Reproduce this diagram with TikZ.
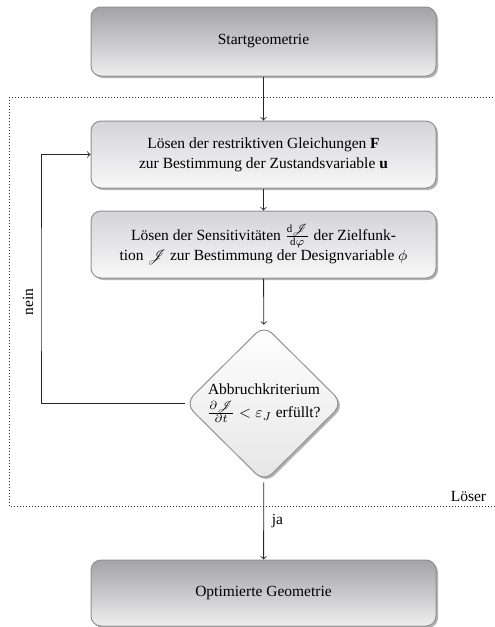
\documentclass[tikz,border=0pt]{standalone}
\usepackage{fontspec}
\setmainfont{Liberation Serif}
\usepackage{amsmath}
\usepackage{mathrsfs}
\usetikzlibrary{shapes.geometric,shadows}
\definecolor{darktop}{RGB}{163,163,168}
\definecolor{darkbot}{RGB}{238,238,238}
\definecolor{lighttop}{RGB}{212,212,216}
\definecolor{lightbot}{RGB}{248,248,248}
\definecolor{edgegray}{RGB}{145,145,145}
\begin{document}
\begin{tikzpicture}[x=0.6pt,y=-0.6pt,
  font=\fontsize{9.3}{12}\selectfont,
  boxbase/.style={rectangle, rounded corners=6pt, draw=edgegray, line width=0.6pt,
    minimum width=207pt, align=center, inner sep=0pt,
    drop shadow={shadow xshift=1.2pt,shadow yshift=-1.2pt,fill=black,opacity=0.3}},
  darkbox/.style={boxbase, top color=darktop, bottom color=darkbot},
  lightbox/.style={boxbase, top color=lighttop, bottom color=lightbot},
  decision/.style={diamond, aspect=1, rounded corners=7pt, draw=edgegray, line width=0.6pt,
    minimum width=94.8pt, minimum height=94.2pt, inner sep=0pt, align=center,
    top color=white, bottom color=white!90!black,
    drop shadow={shadow xshift=1.2pt,shadow yshift=-1.2pt,fill=black,opacity=0.3}},
  conn/.style={->, line width=0.5pt, black!85},
  solver/.style={dash pattern=on 0.5pt off 1.3pt, line width=0.5pt, black!80}
]
\useasboundingbox (0,0) rectangle (494,627);
\draw[solver] (9,97) rectangle (520,506);
\node[anchor=base east] (loeser) at (492,501) {Löser};

\node[darkbox, minimum height=41.4pt] (b1) at (263.5,41.5) {Startgeometrie};
\node[lightbox, minimum height=40.2pt] (b2) at (263.5,154.5)
  {Lösen der restriktiven Gleichungen $\mathbf{F}$\\zur Bestimmung der Zustandsvariable $\mathbf{u}$};
\node[lightbox, minimum height=40.2pt] (b3) at (263.5,244.5)
  {Lösen der Sensitivitäten $\frac{\mathrm{d}\mathscr{J}}{\mathrm{d}\varphi}$ der Zielfunk-\\tion $\mathscr{J}$ zur Bestimmung der Designvariable $\phi$};
\node[decision] (dia) at (264,403.5)
  {Abbruchkriterium\\[1.5pt]$\frac{\partial\mathscr{J}}{\partial t}<\varepsilon_J$ erfüllt?};
\node[darkbox, minimum height=39.6pt] (b4) at (263.5,593) {Optimierte Geometrie};

\coordinate (loopx) at (41,300);
\draw[conn] (b1) -- (b2);
\draw[conn] (b2) -- (b3);
\draw[conn] (b3) -- (dia);
\draw[conn] (dia) -- (b4);
\draw[conn] (dia.west) -| (loopx) |- (b2.west);
\node[rotate=90] (nein) at (28,302) {nein};
\node[anchor=west] (ja) at (266,521) {ja};
\end{tikzpicture}
\end{document}
